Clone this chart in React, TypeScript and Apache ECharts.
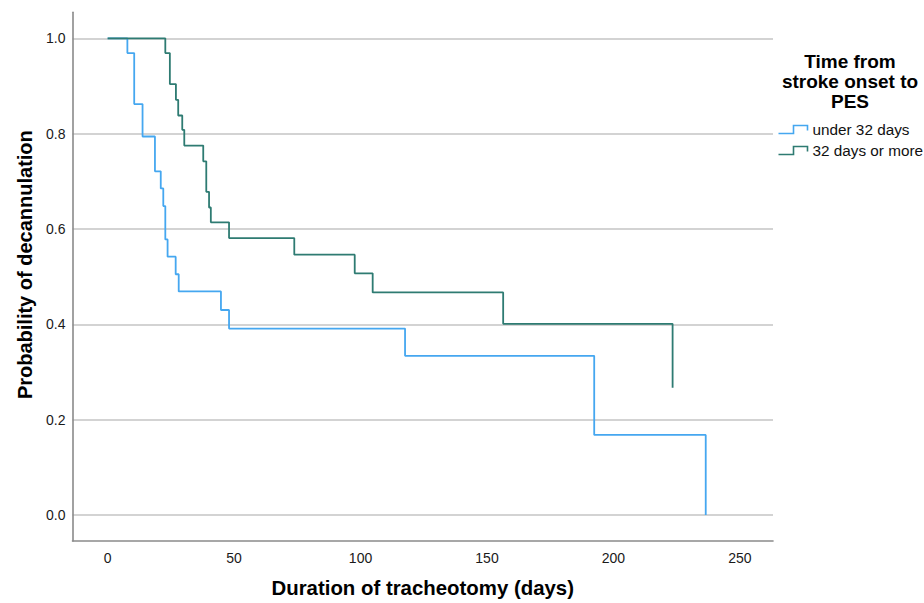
import React, { useEffect, useRef } from "react";
import * as echarts from "echarts";

// Kaplan-Meier steps: [time (days), probability after the step]
const underTimes = [0, 7.8, 10.5, 13.8, 18.7, 21.0, 22.0, 22.8, 23.7, 26.9, 28.1, 44.8, 48.0, 117.6, 192.4, 236.5];
const underProb = [1.0, 0.969, 0.862, 0.794, 0.721, 0.685, 0.648, 0.578, 0.542, 0.505, 0.469, 0.43, 0.391, 0.334, 0.168, 0.0];

const moreTimes = [0, 22.8, 24.6, 27.0, 27.9, 29.5, 30.3, 37.8, 39.0, 40.1, 40.8, 48.0, 73.8, 97.7, 104.8, 156.4, 223.4];
const moreProb = [1.0, 0.969, 0.904, 0.871, 0.838, 0.808, 0.775, 0.742, 0.678, 0.645, 0.614, 0.581, 0.546, 0.507, 0.467, 0.401, 0.267];

const xTicks = [0, 50, 100, 150, 200, 250];
const yTicks = [0, 0.2, 0.4, 0.6, 0.8, 1.0];

const seriesNames = ["under 32 days", "32 days or more"];
const seriesColors = ["#45a7f0", "#2e7b72"];
const legendTitle = "Time from\nstroke onset to\nPES";
const xName = "Duration of tracheotomy (days)";
const yName = "Probability of decannulation";

const FONT = "'Liberation Sans', Arial, sans-serif";

export default function App() {
  const ref = useRef<HTMLDivElement>(null);
  useEffect(() => {
    if (!ref.current) return;
    const chart = echarts.init(ref.current, null, { renderer: "svg" });
    const pair = (t: number[], p: number[]) => t.map((v, i) => [v, p[i]]);
    const stepIcon = "path://M0,8 L15,8 L15,0 L29,0 L29,5";
    chart.setOption({
      animation: false,
      backgroundColor: "#ffffff",
      textStyle: { fontFamily: FONT },
      title: {
        text: legendTitle,
        left: 850,
        top: 51,
        textAlign: "center",
        padding: 0,
        textStyle: { fontFamily: FONT, fontSize: 19, fontWeight: "bold", lineHeight: 20, color: "#000" },
      },
      legend: {
        orient: "vertical",
        left: 776,
        top: 122,
        padding: 0,
        itemWidth: 29,
        itemHeight: 9,
        itemGap: 6,
        icon: stepIcon,
        data: seriesNames.map((n, i) => ({
          name: n,
          icon: stepIcon,
          itemStyle: { color: "none", borderColor: seriesColors[i], borderWidth: 1.6 },
        })),
        textStyle: { fontFamily: FONT, fontSize: 15.3, color: "#111" },
      },
      grid: { left: 72.5, right: 151, top: 12.3, bottom: 61.3, containLabel: false },
      xAxis: {
        type: "value",
        min: -13.9,
        max: 263.1,
        name: xName,
        nameLocation: "middle",
        nameGap: 37,
        nameTextStyle: { fontFamily: FONT, fontSize: 20.4, fontWeight: "bold", color: "#000" },
        axisLine: { show: true, onZero: false, lineStyle: { color: "#8a8a8a", width: 1.6 } },
        axisTick: { show: false, customValues: xTicks },
        axisLabel: { customValues: xTicks, margin: 10, fontSize: 14, color: "#1a1a1a", fontFamily: FONT },
        splitLine: { show: false },
      },
      yAxis: {
        type: "value",
        min: -0.0545,
        max: 1.0545,
        name: yName,
        nameLocation: "middle",
        nameGap: 38,
        nameRotate: 90,
        nameTextStyle: {
          fontFamily: FONT,
          fontSize: 20,
          fontWeight: "bold",
          color: "#000",
          padding: [0, 0, 0, 24],
        },
        axisLine: { show: true, onZero: false, lineStyle: { color: "#8a8a8a", width: 1.6 } },
        axisTick: { show: false, customValues: yTicks },
        axisLabel: {
          customValues: yTicks,
          margin: 7,
          fontSize: 14,
          color: "#1a1a1a",
          fontFamily: FONT,
          formatter: (v: number) => v.toFixed(1),
        },
        splitLine: { show: true, lineStyle: { color: "#c4c4c4", width: 1.5 } },
      },
      series: [
        {
          name: seriesNames[0],
          type: "line",
          step: "end",
          symbol: "none",
          showSymbol: false,
          data: pair(underTimes, underProb),
          lineStyle: { color: seriesColors[0], width: 1.8 },
          itemStyle: { color: seriesColors[0] },
        },
        {
          name: seriesNames[1],
          type: "line",
          step: "end",
          symbol: "none",
          showSymbol: false,
          data: pair(moreTimes, moreProb),
          lineStyle: { color: seriesColors[1], width: 1.8 },
          itemStyle: { color: seriesColors[1] },
        },
      ],
    });
    return () => chart.dispose();
  }, []);
  return (
    <div
      ref={ref}
      style={{ position: "absolute", left: 0, top: 0, width: 924, height: 603 }}
    />
  );
}
